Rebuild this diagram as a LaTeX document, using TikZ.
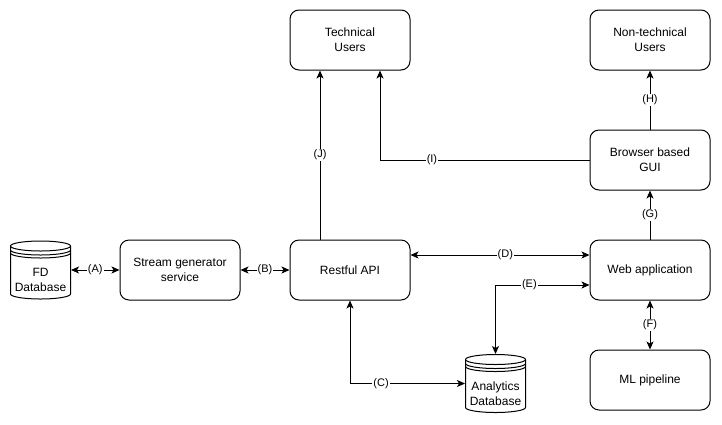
\documentclass[tikz,border=0pt]{standalone}
\usepackage{fontspec}
\setmainfont{Liberation Sans}
\usetikzlibrary{arrows.meta}

% datastore drum: left x, top y, height (pixels, y downwards)
\newcommand{\dbdrum}[3]{%
  \draw[fill=white] (#1,-#2-5) -- (#1,-#2-#3+5) arc (180:360:30 and 5) -- (#1+60,-#2-5) arc (0:180:30 and 5) -- cycle;
  \foreach \d in {5,9,12} \draw (#1,-#2-\d) arc (180:360:30 and 5);
}

\begin{document}
\begin{tikzpicture}[x=1pt,y=1pt,line width=1pt,
    every node/.style={font=\fontsize{12}{15}\selectfont},
    box/.style={draw, rounded corners=9pt, minimum width=120pt, minimum height=60pt, align=center},
    db/.style={minimum width=60pt, minimum height=58pt, inner sep=0pt},
    dbtext/.style={align=center},
    lbl/.style={fill=white, inner sep=1pt, font=\fontsize{11}{13}\selectfont},
    conn/.style={-{Stealth[length=8pt,width=7pt,inset=2pt]}},
    both/.style={{Stealth[length=8pt,width=7pt,inset=2pt]}-{Stealth[length=8pt,width=7pt,inset=2pt]}}]
    \useasboundingbox (0,0) rectangle (722,-424);

    % databases
    \dbdrum{10.5}{241}{58}
    \dbdrum{465.5}{354.5}{58}
    \node[db] (fd) at (40.5,-270) {};
    \node[dbtext] (fdtext) at ([yshift=-10pt]fd.center) {FD\\Database};
    \node[db] (adb) at (495.5,-383.5) {};
    \node[dbtext] (adbtext) at ([yshift=-10pt]adb.center) {Analytics\\Database};

    % boxes
    \node[box] (sgs)     at (180,-270) {Stream generator\\service};
    \node[box] (api)     at (350,-270) {Restful API};
    \node[box] (web)     at (650,-270) {Web application};
    \node[box] (tech)    at (350,-40)  {Technical\\Users};
    \node[box] (nontech) at (650,-40)  {Non-technical\\Users};
    \node[box] (gui)     at (650,-160) {Browser based\\GUI};
    \node[box] (ml)      at (650,-380) {ML pipeline};

    % connectors
    \draw[both] (fd) -- node[lbl] {(A)} (sgs);
    \draw[both] (sgs) -- node[lbl] {(B)} (api);
    \draw[both] (api.south) |- node[lbl, pos=0.635] {(C)} (adb.west);
    \draw[both] ([yshift=15pt]api.east) -- node[lbl, pos=0.53] {(D)} ([yshift=15pt]web.west);
    \draw[both] (adb.north) |- node[lbl, pos=0.68] {(E)} ([yshift=-15pt]web.west);
    \draw[both] (web) -- node[lbl] {(F)} (ml);
    \draw[conn] (web) -- node[lbl] {(G)} (gui);
    \draw[conn] (gui) -- node[lbl] {(H)} (nontech);
    \draw[conn] (gui.west) -| node[lbl, pos=0.376] {(I)} ([xshift=30pt]tech.south);
    \draw[conn] ([xshift=-30pt]api.north) -- node[lbl] {(J)} ([xshift=-30pt]tech.south);
\end{tikzpicture}
\end{document}
